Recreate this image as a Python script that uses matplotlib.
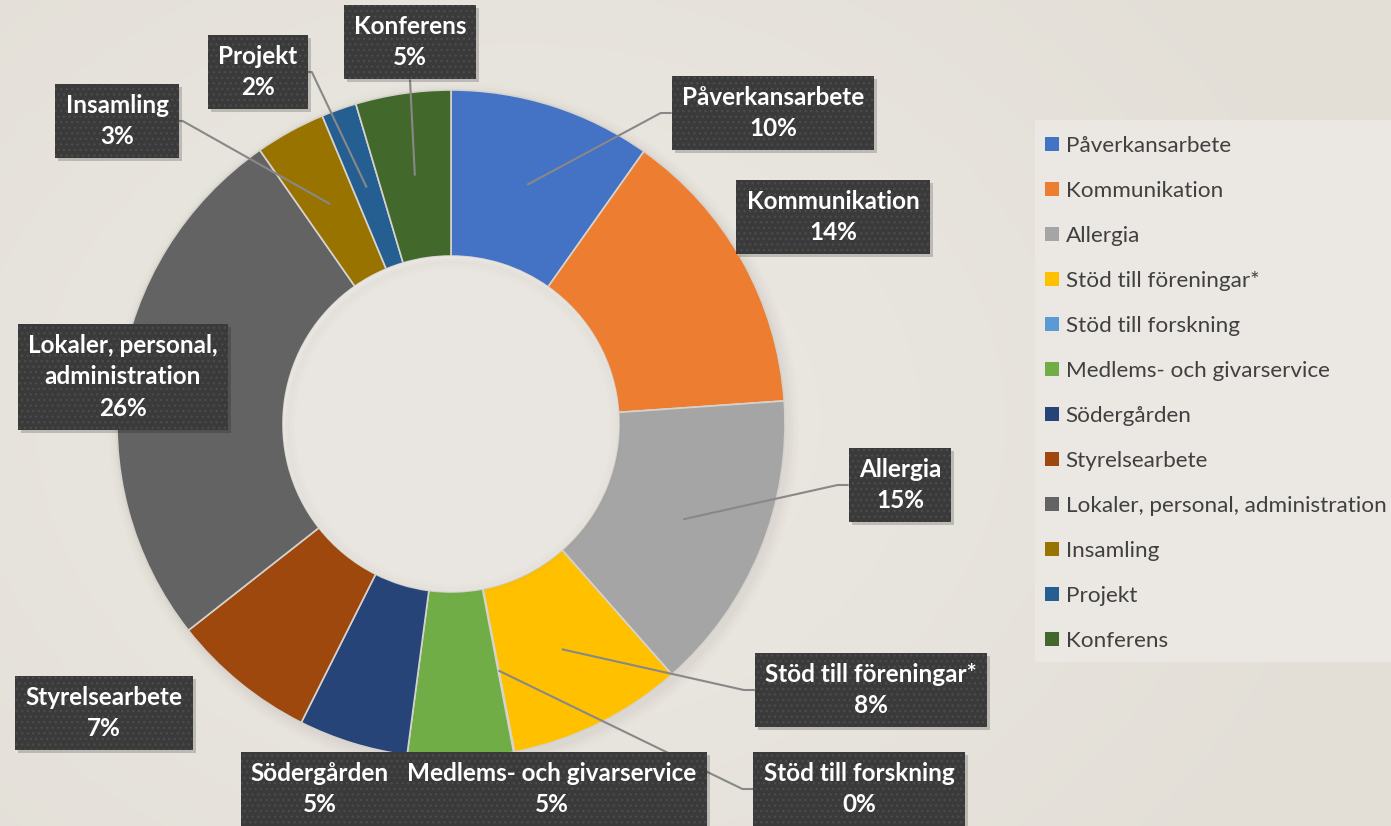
import numpy as np
import matplotlib
matplotlib.use("Agg")
import matplotlib.pyplot as plt
from matplotlib.patches import Rectangle

# ---------------- data ----------------
categories = ["Påverkansarbete", "Kommunikation", "Allergia", "Stöd till föreningar*",
              "Stöd till forskning", "Medlems- och givarservice", "Södergården",
              "Styrelsearbete", "Lokaler, personal, administration", "Insamling",
              "Projekt", "Konferens"]
values = [9.8, 14.1, 14.6, 8.45, 0.05, 5.1, 5.3, 7.0, 25.9, 3.4, 1.7, 4.6]
colors = ["#4472C4", "#ED7D31", "#A5A5A5", "#FFC000", "#5B9BD5", "#70AD47",
          "#264478", "#9E480E", "#636363", "#997300", "#255E91", "#43682B"]

# ---------------- layout (pixels, y from top) ----------------
W, H = 1391, 826
label_pos = [(773, 113, "left"), (833, 217, None), (900, 485, "left"),
             (871, 690, "left"), (859, 789, "left"), (552, 789, None),
             (320, 789, None), (104, 713, None), (123, 377, None),
             (117, 121, "right"), (258, 72, "right"), (410, 42, "bottom")]

def Y(y):
    return H - y

fig = plt.figure(figsize=(W / 100, H / 100), dpi=100)
ax = fig.add_axes([0, 0, 1, 1])

# background gradient
yy, xx = np.mgrid[0:H:2, 0:W:2]
r = np.sqrt(((xx - 520) / 900) ** 2 + ((yy - 420) / 700) ** 2)
r = np.clip(r, 0, 1)
c_in = np.array([0xEC, 0xE9, 0xE4]) / 255
c_out = np.array([0xE3, 0xDF, 0xD7]) / 255
img = c_in[None, None, :] * (1 - r[..., None]) + c_out[None, None, :] * r[..., None]
ax.imshow(img, extent=(0, W, 0, H), origin="upper", zorder=0, aspect="auto")

# donut
cx, cy, R, width = 451, Y(424), 334, 166
for k, a in enumerate([0.035, 0.03, 0.025, 0.02]):
    sh = plt.Circle((cx + 3, cy - 4), R + 2 + 3 * k, color="#8a8070", alpha=a, zorder=1, lw=0)
    ax.add_patch(sh)
wedges, _ = ax.pie(values, colors=colors, startangle=90, counterclock=False,
                   radius=R, center=(cx, cy),
                   wedgeprops=dict(width=width, edgecolor="#d6d3ce", linewidth=1.2))
for w in wedges:
    w.set_zorder(2)
hole = plt.Circle((cx, cy), R - width, facecolor="#e9e6e1", edgecolor="none", zorder=2)
ax.add_patch(hole)
for k, a in enumerate([0.04, 0.03, 0.02]):
    ax.add_patch(plt.Circle((cx + 2, cy - 3), R - width - 2 - 3 * k, facecolor="none",
                            edgecolor="#8a8070", alpha=a, lw=3, zorder=2.1))

ax.set_xlim(0, W)
ax.set_ylim(0, H)
ax.set_aspect("equal")
ax.axis("off")

# labels
texts = []
for name, v, (lx, ly, side) in zip(categories, values, label_pos):
    disp = name.replace(", administration", ",\nadministration")
    t = ax.text(lx, Y(ly), f"{disp}\n{round(v):.0f}%", ha="center", va="center",
                multialignment="center", fontsize=17.5, fontweight="bold",
                family=["Lato", "DejaVu Sans"], color="white", linespacing=1.45,
                zorder=6,
                bbox=dict(boxstyle="square,pad=0.42", facecolor="#3a3a3a",
                          edgecolor="#4b4b4b", linewidth=0, hatch="..."))
    texts.append(t)

fig.canvas.draw()
renderer = fig.canvas.get_renderer()
inv = ax.transData.inverted()
r_mid = R - width / 2
for w, t, (lx, ly, side) in zip(wedges, texts, label_pos):
    bb = t.get_bbox_patch().get_window_extent(renderer)
    (x0, y0), (x1, y1) = inv.transform([(bb.x0, bb.y0), (bb.x1, bb.y1)])
    ax.add_patch(Rectangle((x0 + 3, y0 - 3), x1 - x0, y1 - y0, facecolor="black",
                           alpha=0.18, lw=0, zorder=5.5))
    if side is None:
        continue
    th = np.deg2rad((w.theta1 + w.theta2) / 2)
    ax_, ay_ = cx + r_mid * np.cos(th), cy + r_mid * np.sin(th)
    ym = (y0 + y1) / 2
    if side == "left":
        pts = [(ax_, ay_), (x0 - 11, ym), (x0, ym)]
    elif side == "right":
        pts = [(ax_, ay_), (x1 + 4, ym), (x1, ym)]
    else:
        pts = [(ax_, ay_), (lx, y0)]
    xs, ys = zip(*pts)
    ax.plot(xs, ys, color="#888888", lw=1.5, zorder=4, solid_capstyle="butt")

# legend
ax.add_patch(Rectangle((1035, Y(662)), W - 1035, 662 - 120, facecolor="#ebe8e3",
                       edgecolor="none", zorder=3))
leg = ax.legend(wedges, categories, loc="upper left",
                bbox_to_anchor=(1045 / W, Y(136) / H), frameon=False,
                prop=dict(family=["Lato", "DejaVu Sans"], size=16.2),
                labelcolor="#404040", handlelength=0.62, handleheight=0.62,
                handletextpad=0.3, labelspacing=1.11, borderpad=0, borderaxespad=0)
leg.set_zorder(7)
for h in leg.legend_handles:
    h.set_edgecolor("none")

fig.savefig("out.png", dpi=100)
